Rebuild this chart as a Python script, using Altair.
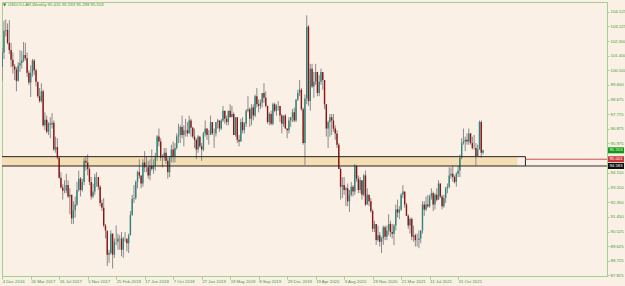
import altair as alt
import pandas as pd

# ---------------- data (weekly bars, first bar = week of 4 Dec 2016) ----------------
first_open = 100.70
close = [101.6, 102.95, 103.0, 102.2, 101.75, 101.15, 100.75, 100.55, 99.85, 100.8,
         100.95, 101.1, 101.45, 101.25, 100.35, 99.75, 100.35, 101.1, 100.5, 99.8,
         98.9, 98.6, 99.2, 97.1, 97.45, 96.7, 97.2, 97.15, 97.25, 95.6,
         95.75, 95.1, 93.85, 93.25, 93.05, 93.05, 93.4, 92.7, 92.8, 91.35,
         91.85, 92.2, 93.1, 93.8, 93.1, 93.6, 94.9, 94.8, 94.4, 93.6,
         92.7, 93.0, 93.9, 93.9, 93.3, 92.3, 92.0, 90.9, 90.6, 89.1,
         89.2, 90.4, 89.1, 89.9, 89.9, 90.1, 90.1, 89.4, 90.1, 90.1,
         89.8, 90.3, 91.55, 92.55, 92.6, 93.6, 94.2, 94.0, 93.5, 94.8,
         94.5, 94.5, 94.0, 94.6, 94.4, 94.6, 95.2, 96.4, 96.1, 95.1,
         95.1, 95.4, 94.9, 94.2, 95.1, 95.6, 95.2, 95.7, 96.4, 96.5,
         97.0, 96.5, 96.8, 96.8, 96.6, 97.4, 96.95, 96.4, 96.2, 95.6,
         96.4, 95.8, 95.6, 96.6, 96.9, 96.5, 96.5, 97.3, 96.6, 96.6,
         97.3, 97.4, 96.9, 97.4, 98.0, 97.5, 97.3, 98.0, 97.6, 97.8,
         96.5, 97.6, 96.2, 96.1, 97.3, 96.8, 97.2, 98.0, 98.1, 97.5,
         98.2, 97.7, 98.9, 98.4, 98.3, 98.5, 99.1, 98.8, 98.3, 97.3,
         97.8, 97.2, 98.4, 98.0, 98.3, 98.3, 97.7, 97.2, 97.7, 96.9,
         96.8, 97.4, 97.6, 97.9, 97.4, 98.7, 99.1, 99.3, 98.1, 96.0,
         98.75, 103.2, 98.6, 100.6, 99.5, 99.8, 100.4, 99.1, 99.8, 100.4,
         99.9, 98.4, 96.9, 97.3, 97.6, 97.4, 96.9, 96.6, 95.9, 94.4,
         93.3, 93.4, 93.1, 93.2, 92.4, 92.8, 93.3, 93.0, 94.6, 93.8,
         93.1, 93.7, 92.8, 94.0, 92.2, 92.8, 92.4, 91.8, 90.7, 91.0,
         90.0, 90.3, 89.9, 90.1, 90.8, 90.2, 90.6, 91.0, 90.5, 90.4,
         90.9, 91.9, 91.7, 91.9, 92.8, 93.0, 92.2, 91.5, 90.9, 91.3,
         90.2, 90.3, 90.0, 90.0, 90.1, 90.6, 92.2, 91.9, 92.2, 92.1,
         92.7, 92.9, 92.2, 92.8, 92.5, 93.5, 92.7, 92.1, 92.6, 93.2,
         93.3, 94.0, 94.1, 93.9, 93.6, 94.1, 94.3, 95.1, 96.0, 96.1,
         96.2, 96.1, 96.6, 96.0, 95.7, 95.7, 95.2, 95.6, 97.3, 95.4,
         95.553]
high = [101.9, 103.56, 103.65, 103.4, 103.6, 102.2, 101.6, 100.9, 100.7, 101.0,
        101.75, 101.7, 102.25, 102.2, 101.6, 100.5, 100.8, 101.2, 101.2, 100.6,
        99.6, 99.4, 99.7, 99.3, 97.9, 97.7, 97.3, 97.6, 97.85, 97.4,
        96.4, 96.3, 95.2, 94.2, 93.45, 93.7, 94.1, 93.7, 93.2, 92.8,
        92.4, 92.7, 93.6, 94.3, 93.9, 93.8, 95.1, 95.2, 95.3, 94.5,
        93.9, 93.5, 94.1, 94.2, 93.9, 93.4, 92.5, 92.6, 91.0, 90.5,
        89.4, 90.6, 90.4, 90.1, 90.9, 90.4, 90.3, 90.5, 90.2, 90.5,
        90.0, 90.4, 91.8, 92.8, 93.4, 93.7, 94.3, 95.0, 94.0, 95.0,
        95.5, 95.2, 94.9, 95.0, 95.6, 95.0, 95.4, 96.5, 96.9, 96.3,
        95.3, 95.7, 95.7, 95.1, 95.2, 95.9, 96.1, 96.0, 96.6, 97.2,
        97.1, 97.7, 97.1, 97.5, 97.3, 97.7, 97.5, 97.0, 96.9, 96.3,
        96.5, 96.4, 96.0, 96.7, 97.4, 96.9, 96.8, 97.7, 97.2, 96.9,
        97.3, 97.5, 97.3, 97.5, 98.3, 98.0, 97.7, 98.0, 98.4, 98.3,
        97.9, 97.6, 97.6, 96.5, 97.5, 97.6, 97.3, 98.1, 98.9, 98.2,
        98.4, 98.4, 99.0, 99.4, 98.7, 98.7, 99.1, 99.7, 99.2, 98.3,
        97.9, 98.0, 98.5, 98.5, 98.4, 98.6, 98.3, 97.8, 97.7, 97.8,
        96.9, 97.6, 97.6, 98.1, 98.2, 98.7, 99.3, 99.9, 99.4, 98.2,
        99.0, 103.9, 103.3, 100.9, 100.9, 100.4, 100.9, 100.4, 100.2, 100.6,
        100.3, 99.9, 98.4, 97.4, 97.8, 97.8, 97.8, 97.1, 96.8, 96.0,
        94.5, 93.9, 93.9, 93.3, 93.5, 93.1, 93.6, 93.4, 94.7, 94.6,
        94.0, 93.9, 93.7, 94.1, 94.3, 93.2, 92.8, 92.6, 91.9, 91.2,
        91.0, 90.9, 90.5, 90.2, 90.9, 90.9, 90.9, 91.6, 91.2, 91.0,
        91.0, 92.2, 92.5, 92.1, 92.9, 93.4, 93.0, 92.3, 91.6, 91.4,
        91.4, 90.9, 90.4, 90.4, 90.6, 90.6, 92.4, 92.4, 92.7, 92.8,
        92.8, 93.2, 93.0, 92.9, 93.2, 93.7, 93.5, 92.8, 92.8, 93.3,
        93.5, 94.5, 94.5, 94.6, 94.0, 94.2, 94.6, 95.3, 96.3, 96.9,
        96.4, 96.6, 96.9, 96.6, 96.4, 96.5, 96.0, 95.9, 97.4, 97.4,
        95.593]
low = [99.85, 101.2, 102.6, 102.1, 101.5, 100.7, 100.3, 99.9, 99.2, 99.8,
       100.4, 100.6, 101.0, 101.1, 100.1, 99.6, 98.85, 100.1, 100.2, 99.5,
       98.8, 98.5, 98.5, 97.0, 96.8, 96.6, 96.5, 96.3, 96.9, 95.5,
       95.4, 95.0, 93.8, 93.2, 92.5, 92.9, 92.9, 92.6, 91.6, 91.0,
       91.0, 91.4, 92.1, 93.0, 92.7, 93.0, 93.4, 94.3, 94.0, 93.4,
       92.5, 92.6, 92.8, 93.3, 93.1, 92.1, 91.8, 90.8, 90.1, 88.4,
       88.6, 89.1, 88.25, 88.9, 89.7, 89.4, 89.4, 89.0, 88.9, 89.9,
       89.3, 89.2, 90.3, 91.5, 92.3, 92.5, 93.2, 93.8, 93.2, 93.3,
       94.2, 94.2, 93.8, 93.7, 94.3, 94.1, 94.3, 94.9, 95.8, 94.9,
       94.5, 94.9, 94.7, 93.8, 93.9, 94.8, 94.8, 94.8, 95.6, 96.0,
       96.0, 96.3, 95.8, 96.4, 96.4, 96.6, 96.4, 96.3, 95.7, 95.0,
       95.4, 95.7, 94.9, 95.5, 96.4, 96.2, 95.9, 96.5, 96.5, 95.7,
       96.4, 96.9, 96.7, 96.8, 97.3, 97.2, 97.1, 97.1, 97.6, 97.6,
       96.5, 96.4, 96.0, 95.8, 96.1, 96.6, 96.6, 97.0, 97.9, 97.0,
       97.1, 97.4, 97.6, 98.2, 97.9, 98.1, 98.2, 98.5, 98.2, 97.2,
       97.1, 97.1, 97.1, 97.9, 97.7, 98.0, 97.3, 96.6, 97.0, 96.9,
       96.3, 96.6, 97.0, 97.3, 97.3, 97.3, 98.6, 98.9, 98.0, 95.9,
       94.65, 98.4, 98.3, 98.0, 99.4, 98.8, 99.6, 98.9, 98.9, 99.6,
       99.3, 98.1, 96.4, 95.7, 96.4, 96.5, 96.7, 96.2, 95.7, 94.4,
       92.5, 92.6, 92.8, 92.1, 92.1, 91.75, 92.7, 92.7, 92.8, 93.6,
       92.9, 92.9, 92.5, 92.7, 92.1, 92.2, 92.1, 91.7, 90.5, 90.5,
       89.7, 89.9, 89.6, 89.2, 89.7, 90.0, 90.0, 90.3, 90.2, 90.1,
       89.7, 90.6, 91.4, 91.3, 91.8, 92.6, 92.0, 91.5, 90.7, 90.4,
       90.0, 89.9, 89.6, 89.6, 89.5, 89.8, 90.4, 91.5, 91.8, 92.0,
       92.0, 92.5, 91.8, 91.9, 92.4, 92.5, 92.6, 91.9, 92.0, 92.3,
       92.9, 93.2, 93.8, 93.6, 93.5, 93.3, 93.9, 93.9, 95.0, 95.9,
       95.5, 95.9, 95.9, 95.9, 95.6, 95.6, 94.6, 95.2, 95.6, 95.1,
       95.298]

x_tick_labels = ["4 Dec 2016", "26 Mar 2017", "16 Jul 2017", "5 Nov 2017", "25 Feb 2018",
                 "17 Jun 2018", "7 Oct 2018", "27 Jan 2019", "19 May 2019", "8 Sep 2019",
                 "29 Dec 2019", "19 Apr 2020", "9 Aug 2020", "29 Nov 2020", "21 Mar 2021",
                 "11 Jul 2021", "31 Oct 2021"]
y_tick_values = [104.125, 103.225, 102.300, 101.400, 100.500, 99.600, 98.675, 97.775,
                 96.875, 95.975, 94.150, 93.250, 92.350, 91.450, 90.525, 89.625,
                 88.725, 87.825]

band_top, band_bottom = 95.16, 94.583
band_fill_end_week, band_box_end_week = 289.3, 293.8
ask_level = 95.001
tag_values = [95.553, 95.001, 94.583]
tag_texts = ["95.553", "95.001", "94.583"]
tag_colors = ["#0f9a12", "#c43c3c", "#111111"]
title_text = "USDOLLAR,Weekly  95.415 95.593 95.298 95.553"

# ---------------- build table ----------------
n = len(close)
opens = [first_open] + close[:-1]
df = pd.DataFrame({"w": list(range(n)), "open": opens, "high": high, "low": low, "close": close})
df["up"] = df["close"] >= df["open"]

X_DOM = [-0.1, 339.6]
Y_DOM = [87.78, 104.725]
GREEN_TXT = "#3f9b35"
GREEN_AX = "#a3d08f"
FONT = "Liberation Sans"

xs = alt.Scale(domain=X_DOM, nice=False, zero=False)
ys = alt.Scale(domain=Y_DOM, nice=False, zero=False)

label_arr = "[" + ",".join("'" + s + "'" for s in x_tick_labels) + "]"


def x_axis():
    return alt.Axis(
        values=list(range(0, 257, 16)), labelExpr=label_arr + "[round(datum.value/16)]",
        labelAlign="left", labelBaseline="top", labelFontSize=4.3, labelColor=GREEN_TXT,
        labelFont=FONT, labelPadding=0, tickSize=3, tickColor=GREEN_AX, domainColor=GREEN_AX,
        grid=False, title=None, labelOverlap=False, labelFlush=False, labelBound=False)


def y_axis():
    return alt.Axis(
        orient="right", values=y_tick_values, labelExpr="format(datum.value, '.3f')",
        labelFontSize=4.3, labelColor=GREEN_TXT, labelFont=FONT, tickSize=2,
        tickColor=GREEN_AX, domainColor=GREEN_AX, labelPadding=1, grid=False, title=None,
        labelOverlap=False, labelFlush=False, labelBound=False, labelSeparation=0)


base = alt.Chart(df)

wicks = base.mark_rule(color="#8a8a8a", strokeWidth=1, clip=True).encode(
    x=alt.X("w:Q", scale=xs, axis=x_axis()),
    y=alt.Y("low:Q", scale=ys, axis=y_axis()),
    y2="high:Q",
)

bodies = base.mark_rule(strokeWidth=1.4, clip=True).encode(
    x=alt.X("w:Q", scale=xs, axis=x_axis()),
    y=alt.Y("open:Q", scale=ys, axis=y_axis()),
    y2="close:Q",
    color=alt.condition("datum.up", alt.value("#2f847c"), alt.value("#8e1414")),
)

band_df = pd.DataFrame({"x0": [-2.0], "x1": [band_fill_end_week], "x2": [band_box_end_week],
                        "top": [band_top], "bot": [band_bottom]})
band_fill = alt.Chart(band_df).mark_rect(color="#f5deb3", clip=True).encode(
    x=alt.X("x0:Q", scale=xs, axis=x_axis()), x2="x1:Q",
    y=alt.Y("bot:Q", scale=ys, axis=y_axis()), y2="top:Q")
band_box = alt.Chart(band_df).mark_rect(filled=False, stroke="#222222", strokeWidth=1, clip=True).encode(
    x=alt.X("x0:Q", scale=xs, axis=x_axis()), x2="x2:Q",
    y=alt.Y("bot:Q", scale=ys, axis=y_axis()), y2="top:Q")

lines_df = pd.DataFrame({"xa": [band_box_end_week, band_box_end_week], "xb": [X_DOM[1], X_DOM[1]],
                         "lvl": [ask_level, band_bottom], "col": ["#d05050", "#333333"]})
lines = alt.Chart(lines_df).mark_rule(strokeWidth=1, clip=True).encode(
    x=alt.X("xa:Q", scale=xs, axis=x_axis()), x2="xb:Q",
    y=alt.Y("lvl:Q", scale=ys, axis=y_axis()),
    color=alt.Color("col:N", scale=None))

tags_df = pd.DataFrame({"v": tag_values, "t": tag_texts, "c": tag_colors})
tag_box = alt.Chart(tags_df).mark_rect(yOffset=-3, y2Offset=3).encode(
    x=alt.value(606), x2=alt.value(622),
    y=alt.Y("v:Q", scale=ys, axis=y_axis()), y2="v:Q",
    color=alt.Color("c:N", scale=None))
tag_txt = alt.Chart(tags_df).mark_text(fontSize=4.3, font=FONT, color="white", align="center",
                                       baseline="middle").encode(
    x=alt.value(614), y=alt.Y("v:Q", scale=ys, axis=y_axis()), text="t:N")

title_df = pd.DataFrame({"t": [title_text]})
title = alt.Chart(title_df).mark_text(fontSize=4.3, font=FONT, color=GREEN_TXT, align="left",
                                      baseline="middle").encode(
    x=alt.value(6), y=alt.value(3), text="t:N")
tri = alt.Chart(title_df).mark_text(fontSize=4, font="DejaVu Sans", color="#2a7a2a", align="center",
                                    baseline="middle").encode(
    x=alt.value(2.5), y=alt.value(3), text=alt.value("▼"))

chart = alt.layer(band_fill, wicks, bodies, band_box, lines, tag_box, tag_txt, title, tri).properties(
    width=605, height=274,
    padding={"left": 2, "top": 2, "right": 18, "bottom": 10},
    autosize=alt.AutoSizeParams(type="none"),
    background="#faf0e6",
).configure_view(stroke=GREEN_AX, strokeWidth=1)

chart.save("out.html", embed_options={"renderer": "svg", "actions": False})
